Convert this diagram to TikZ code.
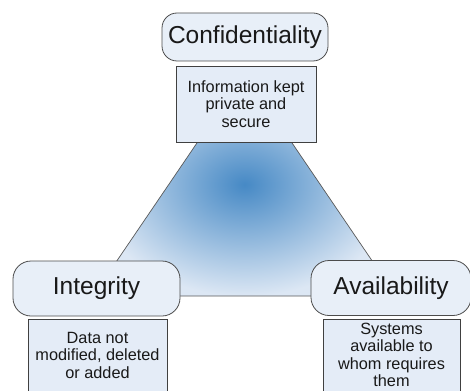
\documentclass[tikz,border=0pt]{standalone}
\usepackage{fontspec}
\setmainfont{Liberation Sans}

\definecolor{pillarfill}{RGB}{232,239,248}
\definecolor{notefill}{RGB}{228,236,247}
\definecolor{triin}{RGB}{70,137,197}
\definecolor{triout}{RGB}{220,231,244}

\begin{document}
\begin{tikzpicture}[x=1pt,y=-1pt,
  pillar/.style={draw=black!70, fill=pillarfill, line width=0.8pt, rounded corners=15pt,
    inner sep=0pt, minimum width=166pt, minimum height=48pt,
    text=black!90, font=\fontsize{24.5}{29}\selectfont},
  note/.style={draw=black!75, fill=notefill, line width=0.8pt, inner sep=0pt,
    align=center, text=black!90, font=\fontsize{16.3}{17.3}\selectfont}]

\useasboundingbox (0,0) rectangle (470,390);

\coordinate (apex) at (244.5,73);
\coordinate (lcorner) at (93,296);
\coordinate (rcorner) at (396,296);
\shadedraw[inner color=triin, outer color=triout, draw=black!65, line width=0.7pt]
  (apex) -- (lcorner) -- (rcorner) -- cycle;

\node[pillar] (conf) at (245,37) {Confidentiality};
\node[note, minimum width=140pt, minimum height=76pt] (confnote) at (246,104)
  {Information kept\\private and\\secure};

\node[pillar, minimum width=167pt, minimum height=55pt, rounded corners=18pt] (integ) at (96.5,288.5) {Integrity};
\node[note, anchor=north, minimum width=139pt, minimum height=72pt] (integnote) at (97.5,319)
  {Data not\\modified, deleted\\or added};

\node[pillar, minimum width=160pt, minimum height=55pt, rounded corners=18pt] (avail) at (391,288) {Availability};
\node[note, anchor=north, minimum width=137pt, minimum height=72pt] (availnote) at (391.5,318.5)
  {Systems\\available to\\whom requires\\them};

\end{tikzpicture}
\end{document}
